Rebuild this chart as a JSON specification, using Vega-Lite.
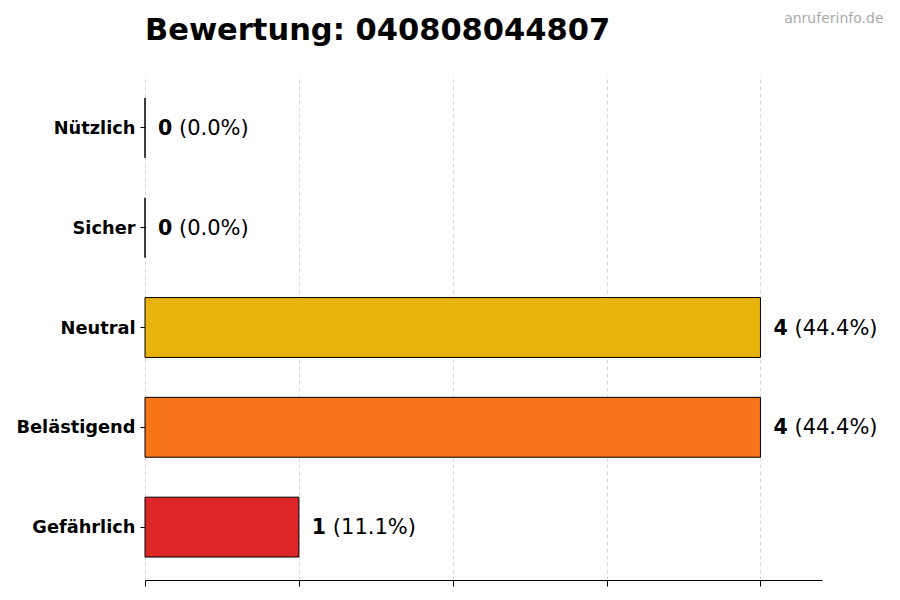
{
  "$schema": "https://vega.github.io/schema/vega-lite/v6.json",
  "autosize": {"type": "none"},
  "padding": {"left": 145, "top": 75, "right": 78, "bottom": 20},
  "width": 677,
  "height": 505,
  "background": "white",
  "config": {
    "font": "DejaVu Sans",
    "view": {"stroke": null}
  },
  "title": {
    "text": "Bewertung: 040808044807",
    "anchor": "start",
    "frame": "group",
    "fontSize": 30.5,
    "fontWeight": "bold",
    "color": "black",
    "offset": -35
  },
  "data": {
    "values": [
      {"kategorie": "Nützlich", "anzahl": 0, "anteil": "(0.0%)"},
      {"kategorie": "Sicher", "anzahl": 0, "anteil": "(0.0%)"},
      {"kategorie": "Neutral", "anzahl": 4, "anteil": "(44.4%)"},
      {"kategorie": "Belästigend", "anzahl": 4, "anteil": "(44.4%)"},
      {"kategorie": "Gefährlich", "anzahl": 1, "anteil": "(11.1%)"}
    ]
  },
  "encoding": {
    "y": {
      "field": "kategorie",
      "type": "nominal",
      "sort": null,
      "scale": {"paddingInner": 0.4, "paddingOuter": 0.23},
      "axis": {
        "title": null,
        "domain": false,
        "ticks": true,
        "tickSize": 5,
        "tickColor": "black",
        "labelPadding": 5,
        "labelOffset": 1,
        "labelFontSize": 17.8,
        "labelFontWeight": "bold",
        "labelColor": "black"
      }
    },
    "x": {
      "field": "anzahl",
      "type": "quantitative",
      "scale": {"domain": [0, 4.4], "nice": false},
      "axis": null
    }
  },
  "layer": [
    {
      "mark": {"type": "bar", "stroke": "black", "strokeWidth": 1},
      "encoding": {
        "x": {
          "field": "anzahl",
          "type": "quantitative",
          "axis": {
            "title": null,
            "values": [0, 1, 2, 3, 4],
            "labels": false,
            "domainColor": "black",
            "tickColor": "black",
            "tickSize": 6,
            "grid": true,
            "gridColor": "#d9d9d9",
            "gridDash": [4, 3]
          }
        },
        "color": {
          "field": "kategorie",
          "type": "nominal",
          "legend": null,
          "scale": {
            "domain": ["Nützlich", "Sicher", "Neutral", "Belästigend", "Gefährlich"],
            "range": ["#22a35a", "#3b82f6", "#e8b40b", "#f77419", "#dc2627"]
          }
        }
      }
    },
    {
      "mark": {"type": "text", "align": "left", "baseline": "middle", "dx": 13, "dy": 1, "fontSize": 20.5, "fontWeight": "bold", "color": "black"},
      "encoding": {
        "x": {
          "field": "anzahl",
          "type": "quantitative",
          "axis": {
            "orient": "top",
            "title": "anruferinfo.de",
            "titleFontSize": 14,
            "titleFontWeight": "normal",
            "titleColor": "#aaaaaa",
            "titleAlign": "right",
            "titleBaseline": "alphabetic",
            "titleX": 738,
            "titleY": -53,
            "labels": false,
            "ticks": false,
            "domain": false,
            "grid": false
          }
        },
        "text": {"field": "anzahl"}
      }
    },
    {
      "mark": {"type": "text", "align": "left", "baseline": "middle", "dx": 34, "dy": 1, "fontSize": 21, "color": "black"},
      "encoding": {
        "text": {"field": "anteil"}
      }
    }
  ],
  "resolve": {"axis": {"x": "independent"}}
}
